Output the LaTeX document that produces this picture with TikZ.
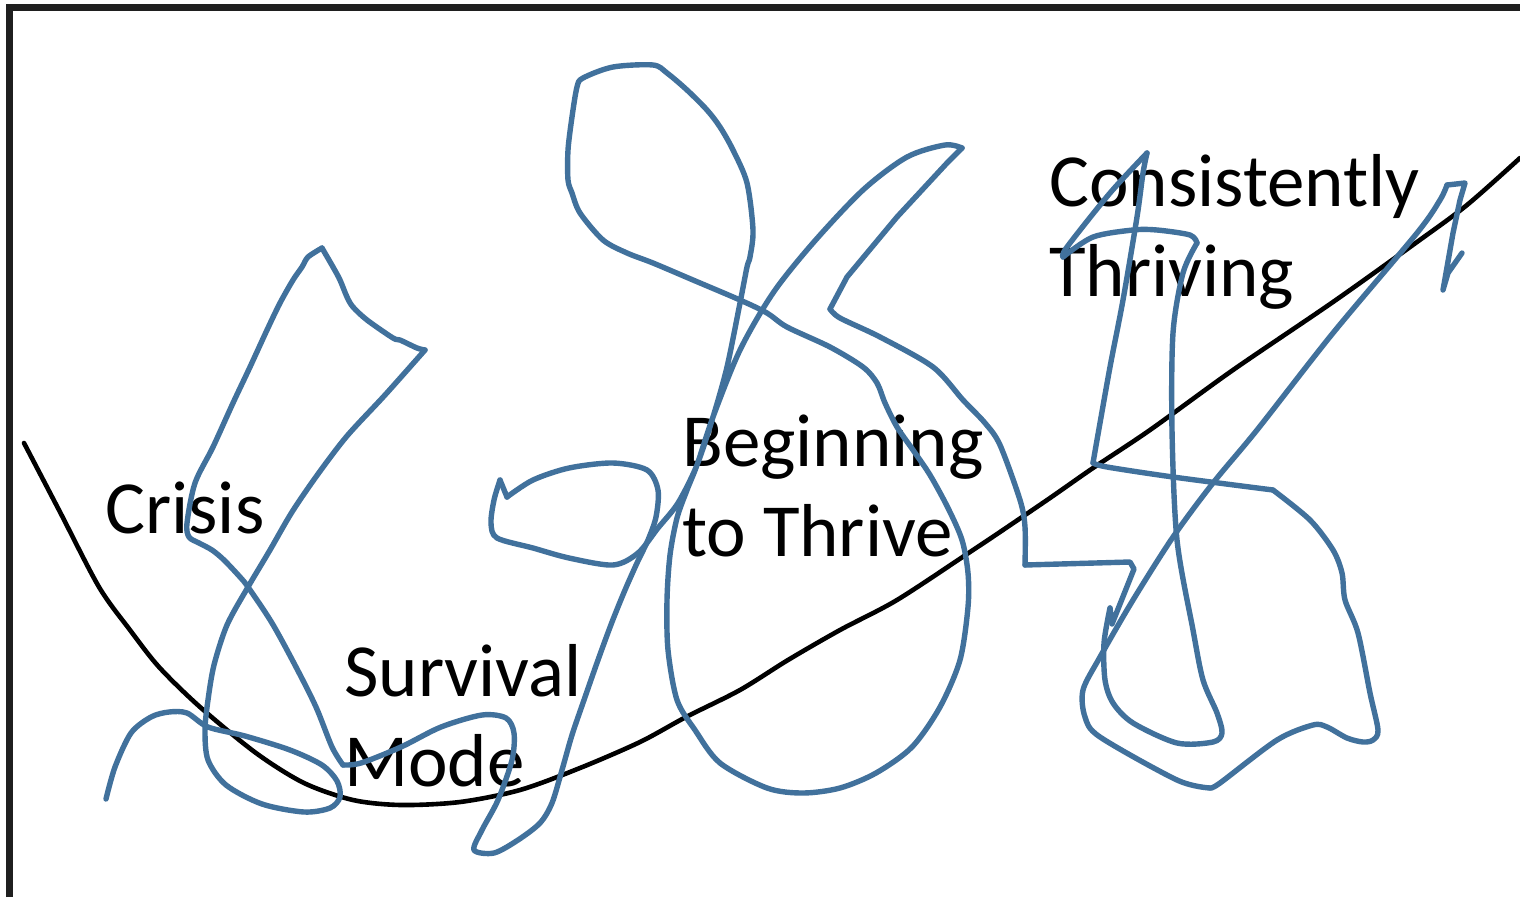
\documentclass[tikz,border=0pt]{standalone}
\usepackage{fontspec}
\setmainfont{Carlito}
\definecolor{inkblue}{RGB}{65,113,156}
\tikzset{
  scribble/.style={draw=inkblue, line width=5.4pt, line cap=round, line join=round},
  stagecurve/.style={draw=black, line width=4.6pt, line cap=round},
  stagelabel/.style={anchor=base west, inner sep=0pt, align=left,
    font=\fontsize{75}{90}\selectfont}
}

\begin{document}
\begin{tikzpicture}[x=1pt,y=-1pt]
  \useasboundingbox (0,0) rectangle (1520,897);
  \fill[white] (0,0) rectangle (1520,897);
  % frame
  \draw[line width=7pt, black!88] (9,897) -- (9,7) -- (1520,7);
  % the curve
  \draw[stagecurve] plot[smooth, tension=.5] coordinates {(24,443) (60,512) (99,587) (130,630) (159,667)
    (200,707) (256,753) (304,783) (353,800) (401,805) (460,802) (520,790) (580,768) (640,742)
    (686,717) (740,690) (788,660) (840,630) (897,600) (970,552) (1000,532) (1050,498) (1093,468)
    (1150,430) (1233,370) (1333,302) (1417,242) (1467,205) (1520,158)};
  % stages (anchor is the baseline of the last line)
  \node[stagelabel] (crisis) at (105,533) {Crisis};
  \node[stagelabel] (survival) at (344,786) {Survival\\Mode};
  \node[stagelabel] (beginning) at (682,556) {Beginning\\to Thrive};
  \node[stagelabel] (thriving) at (1049,296) {Consistently\\Thriving};
  % scribble over it
  \draw[scribble] plot[smooth, tension=.5] coordinates {(106,799) (115,767) (131,733) (151,717) (169,712)
    (187,713) (208,727) (245,736) (290,750) (322,765) (337,781) (340,797) (330,808) (304,812)
    (262,804) (226,785) (208,760) (205,730) (208,700) (214,665) (227,625) (248,587) (270,550)
    (292,512) (318,474) (347,436) (385,395) (425,350)};
  \draw[scribble] plot[smooth, tension=.5] coordinates {(425,350) (417,348) (400,340) (393,338) (367,320)
    (353,307) (347,297) (340,280) (333,267) (322,248)};
  \draw[scribble] plot[smooth, tension=.5] coordinates {(322,248) (308,257) (302,267) (293,280) (280,303)
    (267,330) (250,367) (233,403) (213,447) (195,483) (187,523) (189,537) (199,543) (212,550)
    (224,560) (240,577) (248,587) (272,623) (296,667) (316,707) (332,747) (343,765)};
  \draw[scribble] plot[smooth, tension=.5] coordinates {(343,765) (361,763) (401,747) (441,727) (482,715)
    (506,718) (514,733) (512,760) (498,800) (482,830) (474,850) (494,853) (518,840) (540,823)
    (552,803) (562,770) (572,735) (584,700) (598,660) (612,622) (625,590) (637,563) (648,540)
    (656,517) (658,490) (647,470) (613,463) (569,468) (533,480) (507,497)};
  \draw[scribble] (507,497) -- (500,480);
  \draw[scribble] plot[smooth, tension=.5] coordinates {(500,480) (494,500) (491,523) (497,538) (533,548)
    (569,558) (613,565) (638,553) (658,528) (678,503) (697,465) (713,417) (727,367) (740,303)
    (747,267) (750,257) (753,230) (747,183) (733,150) (720,127) (707,110) (687,90) (667,73)
    (653,65) (613,67) (583,78) (577,87) (572,117) (568,150) (568,180) (572,193) (580,213)
    (603,240) (627,253) (653,263) (693,280) (740,300) (767,313) (787,327) (830,347) (863,367)
    (877,383) (885,403) (897,427) (913,450) (930,475) (948,508) (962,540) (968,573) (968,607)
    (960,660) (940,707) (912,747) (876,773) (840,788) (803,793) (767,788) (720,763) (695,730)
    (677,700) (668,650) (667,600) (670,555) (677,518) (687,490) (697,465) (713,417) (740,350)
    (773,293) (813,243) (863,190) (907,157) (945,145) (962,148)};
  \draw[scribble] (962,148) -- (947,163) -- (897,217) -- (847,277) -- (830,309);
  \draw[scribble] plot[smooth, tension=.5] coordinates {(830,309) (840,318) (880,337) (933,367)
    (963,400) (985,423) (1000,445) (1020,500) (1025,527) (1025,565)};
  \draw[scribble] (1025,565) -- (1130,562) -- (1134,569) -- (1112,624) -- (1110,608);
  \draw[scribble] plot[smooth, tension=.5] coordinates {(1110,608) (1104,643) (1105,680) (1113,703)
    (1133,723) (1177,743) (1213,742) (1222,733) (1217,713) (1203,680) (1193,630) (1177,540)
    (1172,430) (1173,333) (1183,273) (1197,243)};
  \draw[scribble] plot[smooth, tension=.5] coordinates {(1197,243) (1190,235) (1157,230) (1133,230)
    (1093,237) (1063,257)};
  \draw[scribble] plot[smooth, tension=.5] coordinates {(1063,257) (1067,247) (1110,193) (1147,153)};
  \draw[scribble] plot[smooth, tension=.5] coordinates {(1147,153) (1143,173) (1137,217) (1123,300)
    (1110,367) (1097,440) (1093,463)};
  \draw[scribble] plot[smooth, tension=.5] coordinates {(1093,463) (1107,467) (1173,477) (1273,490)};
  \draw[scribble] plot[smooth, tension=.5] coordinates {(1273,490) (1310,520) (1333,550) (1342,573)
    (1345,600) (1358,633) (1370,693) (1378,730) (1373,740) (1363,742) (1347,738) (1327,727)
    (1313,725) (1277,740) (1220,783) (1210,788)};
  \draw[scribble] plot[smooth, tension=.5] coordinates {(1210,788) (1177,780) (1100,737) (1085,717)
    (1083,690) (1100,657) (1133,600) (1173,537) (1213,483) (1257,430) (1333,333) (1417,233)
    (1440,200) (1447,185)};
  \draw[scribble] (1447,185) -- (1465,183) -- (1460,200) -- (1453,233) -- (1443,290) -- (1448,273)
    -- (1462,253);
\end{tikzpicture}
\end{document}
